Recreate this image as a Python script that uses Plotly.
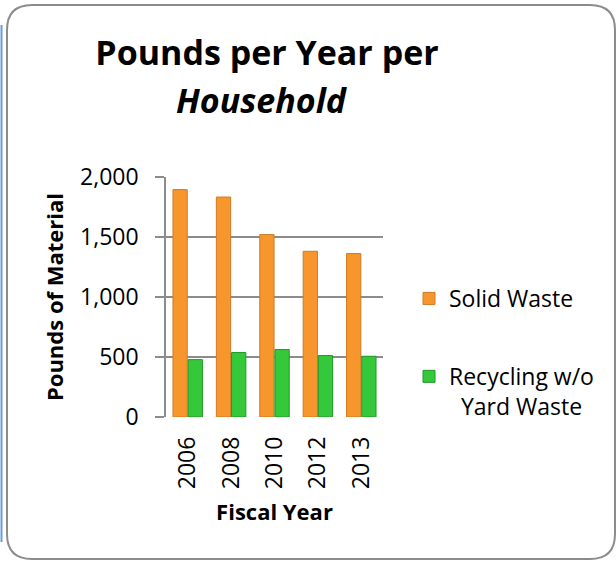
import plotly.graph_objects as go

years = ["2006", "2008", "2010", "2012", "2013"]
solid_waste = [1895, 1833, 1520, 1381, 1362]
recycling = [478, 537, 562, 512, 506]
y_ticks = [0, 500, 1000, 1500, 2000]
y_tick_labels = ["0", "500", "1,000", "1,500", "2,000"]

W, H = 616, 561
ML, MR, MT, MB = 166, 233, 177, 144
PW, PH = W - ML - MR, H - MT - MB


def px(x):
    return (x - ML) / PW


def py(y):
    return (H - MB - y) / PH


FONT = "Open Sans"

fig = go.Figure()
fig.add_trace(go.Bar(
    x=years, y=solid_waste, name="Solid Waste",
    marker=dict(color="#F8962E", line=dict(color="#D07A22", width=1)),
    legendgroup="a",
))
fig.add_trace(go.Bar(
    x=years, y=recycling, name="Recycling w/o<br>\u00a0\u00a0Yard Waste",
    marker=dict(color="#36C83B", line=dict(color="#1E9A24", width=1)),
    legendgroup="b",
))

# outer rounded border
x0, x1, y0, y1, r = 7, 615, 5, 559, 25
path = (
    f"M {px(x0 + r)},{py(y0)} L {px(x1 - r)},{py(y0)} "
    f"Q {px(x1)},{py(y0)} {px(x1)},{py(y0 + r)} "
    f"L {px(x1)},{py(y1 - r)} Q {px(x1)},{py(y1)} {px(x1 - r)},{py(y1)} "
    f"L {px(x0 + r)},{py(y1)} Q {px(x0)},{py(y1)} {px(x0)},{py(y1 - r)} "
    f"L {px(x0)},{py(y0 + r)} Q {px(x0)},{py(y0)} {px(x0 + r)},{py(y0)} Z"
)
shapes = [
    dict(type="path", xref="paper", yref="paper", path=path,
         line=dict(color="#8C8C8C", width=2), layer="below"),
    dict(type="line", xref="paper", yref="paper",
         x0=px(1.5), x1=px(1.5), y0=py(25), y1=py(542),
         line=dict(color="#6A9BE0", width=2)),
]

fig.update_layout(
    width=W, height=H,
    margin=dict(l=ML, r=MR, t=MT, b=MB),
    paper_bgcolor="white", plot_bgcolor="white",
    font=dict(family=FONT, color="black", size=23),
    barmode="group", bargap=0.3, bargroupgap=0.06,
    title=dict(text="<b>Pounds per Year per</b>", xref="container", x=267 / W,
               xanchor="center", yref="container", y=1 - 53 / H, yanchor="middle",
               font=dict(family=FONT, size=34, color="black")),
    annotations=[dict(text="<b><i>Household</i></b>", xref="paper", yref="paper",
                      x=px(262), y=py(100), xanchor="center", yanchor="middle",
                      showarrow=False, font=dict(family=FONT, size=34, color="black"))],
    shapes=shapes,
    legend=dict(x=px(409), y=py(277), xanchor="left", yanchor="top",
                font=dict(family=FONT, size=23, color="black"),
                traceorder="grouped", tracegroupgap=45, valign="top",
                bgcolor="rgba(0,0,0,0)"),
    showlegend=True,
)
fig.update_xaxes(
    type="category", tickangle=-90, ticks="", ticklabelstandoff=14,
    showline=False, showgrid=False,
    tickfont=dict(family=FONT, size=23),
    title=dict(text="<b>Fiscal Year</b>", font=dict(family=FONT, size=22), standoff=16),
)
fig.update_yaxes(
    range=[0, 2000], tickvals=y_ticks, ticktext=y_tick_labels,
    ticks="outside", ticklen=9, tickcolor="#8C8C8C", tickwidth=1.5,
    ticklabelstandoff=12,
    showline=True, linecolor="#8C8C8C", linewidth=1.5,
    showgrid=True, gridcolor="#8C8C8C", gridwidth=1.5,
    zeroline=False,
    tickfont=dict(family=FONT, size=23),
    title=dict(text="<b>Pounds of Material</b>", font=dict(family=FONT, size=22), standoff=10),
)

fig.write_html("out.html", config={"displayModeBar": False},
               post_script="document.body.style.margin='0';")
